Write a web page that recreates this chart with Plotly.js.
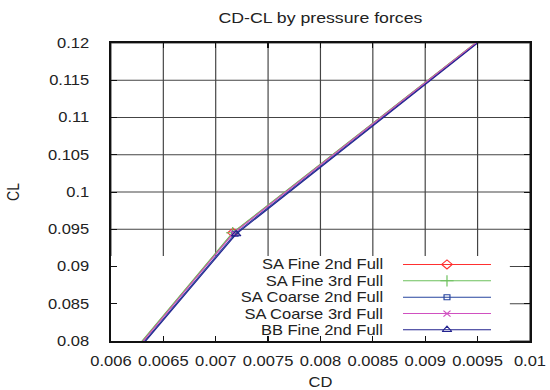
<!DOCTYPE html>
<html>
<head>
<meta charset="utf-8">
<script src="https://cdn.plot.ly/plotly-3.0.1.min.js"></script>
<style>
  html, body { margin: 0; padding: 0; background: #fff; overflow: hidden; }
  /* drawn narrower, then widened so the lettering comes out broad */
  #chart { width: 466px; height: 390px; transform: scaleX(1.1803); transform-origin: 0 0; }
</style>
</head>
<body>
<div id="chart"></div>
<script>
// CD-CL polars from pressure forces, one run per series
const seriesNames = ["SA Fine 2nd Full", "SA Fine 3rd Full", "SA Coarse 2nd Full", "SA Coarse 3rd Full", "BB Fine 2nd Full"];

const cdFine2   = [0.005708, 0.007165, 0.010391];
const clFine2   = [0.0700,   0.09452,  0.1300];
const cdFine3   = [0.005702, 0.007162, 0.010390];
const clFine3   = [0.0700,   0.09454,  0.1300];
const cdCoarse2 = [0.005723, 0.007185, 0.010395];
const clCoarse2 = [0.0700,   0.09440,  0.1300];
const cdCoarse3 = [0.005712, 0.007170, 0.010391];
const clCoarse3 = [0.0700,   0.09448,  0.1300];
const cdBBFine2 = [0.005730, 0.007195, 0.010400];
const clBBFine2 = [0.0700,   0.09435,  0.1300];

const xTickVals = [0.006, 0.0065, 0.007, 0.0075, 0.008, 0.0085, 0.009, 0.0095, 0.01];
const xTickText = ["0.006", "0.0065", "0.007", "0.0075", "0.008", "0.0085", "0.009", "0.0095", "0.01"];
const yTickVals = [0.08, 0.085, 0.09, 0.095, 0.1, 0.105, 0.11, 0.115, 0.12];
const yTickText = ["0.08", "0.085", "0.09", "0.095", "0.1", "0.105", "0.11", "0.115", "0.12"];

const FONT = "Liberation Sans, Arial, Helvetica, sans-serif";
const TEXT = "#222";

const styles = [
  { color: "#ff3030", symbol: "diamond-open",     size: 7 },
  { color: "#6cc05c", symbol: "cross-thin",       size: 8 },
  { color: "#26449e", symbol: "square-open",      size: 5 },
  { color: "#d050c0", symbol: "x-thin",           size: 6 },
  { color: "#22228e", symbol: "triangle-up-open", size: 7 }
];

const xs = [cdFine2, cdFine3, cdCoarse2, cdCoarse3, cdBBFine2];
const ys = [clFine2, clFine3, clCoarse2, clCoarse3, clBBFine2];

// key geometry, as fractions of the plot area
const keyX0 = 0.697, keyX1 = 0.907, keyMid = 0.802, keyTextX = 0.656;
const keyRows = [0.257, 0.202, 0.147, 0.092, 0.038];
const keyBox = { x1: 0.952, y1: 0.285 };

const traces = [];
const annotations = [];

// key (x2/y2, unit square over the plot area)
seriesNames.forEach((name, i) => {
  const s = styles[i];
  traces.push({
    type: "scatter", mode: "lines", xaxis: "x2", yaxis: "y2",
    x: [keyX0, keyX1], y: [keyRows[i], keyRows[i]],
    line: { color: s.color, width: 1 }, showlegend: false, hoverinfo: "skip"
  });
  traces.push({
    type: "scatter", mode: "markers", xaxis: "x2", yaxis: "y2",
    x: [keyMid], y: [keyRows[i]],
    marker: { symbol: s.symbol, size: s.size, color: s.color, line: { color: s.color, width: 1 } },
    showlegend: false, hoverinfo: "skip"
  });
  annotations.push({
    xref: "paper", yref: "paper", x: keyTextX, y: keyRows[i],
    xanchor: "right", yanchor: "middle", showarrow: false,
    text: name, font: { family: FONT, size: 14, color: TEXT }
  });
});

// polar curves
xs.forEach((x, i) => {
  const s = styles[i];
  traces.push({
    type: "scatter", mode: "lines+markers", name: seriesNames[i],
    x: x, y: ys[i],
    line: { color: s.color, width: 1 },
    marker: { symbol: s.symbol, size: s.size, color: s.color, line: { color: s.color, width: 1 } },
    showlegend: false, hoverinfo: "skip"
  });
});

// grid drawn as shapes beneath the key's white panel
const GRID = { color: "#444", width: 1 };
const shapes = [];
xTickVals.forEach(v => shapes.push({
  type: "line", xref: "x", yref: "y domain", x0: v, x1: v, y0: 0, y1: 1,
  line: GRID, layer: "below"
}));
yTickVals.forEach(v => shapes.push({
  type: "line", xref: "x domain", yref: "y", x0: 0, x1: 1, y0: v, y1: v,
  line: GRID, layer: "below"
}));
shapes.push({
  type: "rect", xref: "x domain", yref: "y domain", x0: 0, x1: keyBox.x1, y0: 0, y1: keyBox.y1,
  fillcolor: "#fff", line: { width: 0 }, layer: "below"
});

const axisCommon = {
  showgrid: false, zeroline: false, showline: true, linecolor: "#111", mirror: "ticks",
  ticks: "inside", ticklen: 5, tickcolor: "#111", tickwidth: 1,
  tickfont: { family: FONT, size: 14, color: TEXT }
};

const layout = {
  width: 466, height: 390,
  margin: { l: 94, r: 17, t: 43, b: 49, pad: 0 },
  paper_bgcolor: "#fff", plot_bgcolor: "#fff",
  title: {
    text: "CD-CL by pressure forces",
    font: { family: FONT, size: 15, color: TEXT },
    x: 0.5, xref: "paper", y: 0.955, yref: "container", yanchor: "middle"
  },
  xaxis: Object.assign({}, axisCommon, {
    range: [0.006, 0.01], tickmode: "array", tickvals: xTickVals, ticktext: xTickText,
    linewidth: 1.8, ticklabelstandoff: 6,
    title: { text: "CD", font: { family: FONT, size: 14, color: TEXT }, standoff: 10 }
  }),
  yaxis: Object.assign({}, axisCommon, {
    range: [0.08, 0.12], tickmode: "array", tickvals: yTickVals, ticktext: yTickText,
    linewidth: 1.6, ticklabelstandoff: 14,
    title: { text: "CL", font: { family: FONT, size: 14, color: TEXT }, standoff: 20 }
  }),
  xaxis2: { overlaying: "x", anchor: "y2", range: [0, 1], visible: false, fixedrange: true },
  yaxis2: { overlaying: "y", anchor: "x2", range: [0, 1], visible: false, fixedrange: true },
  shapes: shapes,
  annotations: annotations,
  showlegend: false
};

Plotly.newPlot("chart", traces, layout, { displayModeBar: false, staticPlot: true });
</script>
</body>
</html>
